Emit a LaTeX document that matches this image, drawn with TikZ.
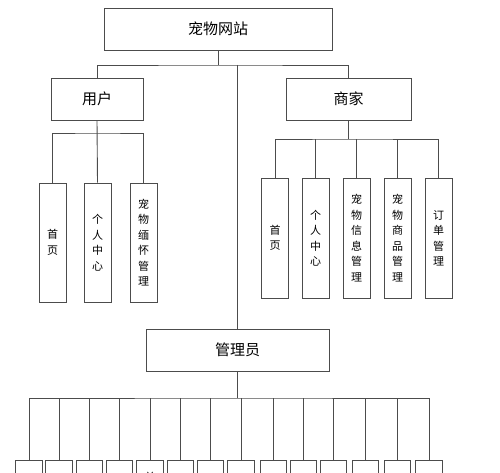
\documentclass[tikz,border=0pt]{standalone}
\usepackage{fontspec}
\setmainfont{Noto Sans CJK SC}
\begin{document}
\begin{tikzpicture}[x=1pt,y=-1pt,
  box/.style={draw=black!70, line width=0.9pt, rectangle, inner sep=0pt, fill=white},
  wide/.style={box, minimum height=42pt, font=\fontsize{15}{18}\selectfont},
  tall/.style={box, minimum width=27pt, align=center, font=\fontsize{11}{15.5}\selectfont},
  conn/.style={draw=black!70, line width=0.9pt}]
\useasboundingbox (0,0) rectangle (500,473);
\clip (0,0) rectangle (500,473);
% level 0 and 1
\node[wide, minimum width=228pt] (top) at (218,29) {宠物网站};
\node[wide, minimum width=92pt] (user) at (97,99) {用户};
\node[wide, minimum width=125pt] (shop) at (348.5,99) {商家};
\node[wide, minimum width=183pt] (admin) at (237.5,350) {管理员};
% user children
\node[tall, minimum height=119pt] (u1) at (52.5,242.5) {首\\页};
\node[tall, minimum height=119pt] (u2) at (97.5,242.5) {个\\人\\中\\心};
\node[tall, minimum height=119pt] (u3) at (143.5,242.5) {宠\\物\\缅\\怀\\管\\理};
% shop children
\node[tall, minimum height=120pt] (s1) at (275,238) {首\\页};
\node[tall, minimum height=120pt] (s2) at (315.5,238) {个\\人\\中\\心};
\node[tall, minimum height=120pt] (s3) at (356.5,238) {宠\\物\\信\\息\\管\\理};
\node[tall, minimum height=120pt] (s4) at (397.5,238) {宠\\物\\商\\品\\管\\理};
\node[tall, minimum height=120pt] (s5) at (438.5,238) {订\\单\\管\\理};
% admin children (cut off by the page edge)
\foreach \i/\cx in {1/29,2/59,3/89.5,4/119.5,5/150,6/180.5,7/210.5,8/241,9/273.5,10/303.5,11/333.5,12/365.5,13/397.5,14/429}{
  \node[tall, minimum width=26.5pt, minimum height=120pt] (a\i) at (\cx,520) {};
}
\node[font=\fontsize{11}{15.5}\selectfont, inner sep=0pt] (a5t) at (150,477) {首};
% connectors
\coordinate (b0) at (218,65);
\draw[conn] (top.south) -- (b0);
\draw[conn] (user.north) |- (b0) -| (shop.north);
\draw[conn] (b0 -| admin.north) -- (admin.north);
\coordinate (ub) at (97.5,133);
\draw[conn] (u1.north) |- (ub) -| (u3.north);
\draw[conn] (user.south) -- (u2.north);
\coordinate (sb) at (348.5,139);
\draw[conn] (shop.south) -- (sb);
\draw[conn] (s1.north) |- (sb) -| (s5.north);
\draw[conn] (s2.north) -- (s2.north |- sb);
\draw[conn] (s3.north) -- (s3.north |- sb);
\draw[conn] (s4.north) -- (s4.north |- sb);
\coordinate (ab) at (237.5,398);
\draw[conn] (admin.south) -- (ab);
\draw[conn] (a1.north) |- (ab) -| (a14.north);
\foreach \i in {2,...,13}{
  \draw[conn] (a\i.north) -- (a\i.north |- ab);
}
\end{tikzpicture}
\end{document}
